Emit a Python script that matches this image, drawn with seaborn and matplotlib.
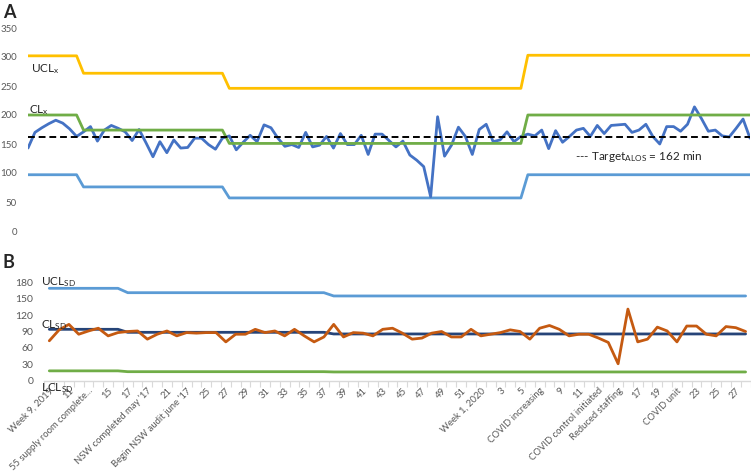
import numpy as np
import pandas as pd
import matplotlib
matplotlib.use("Agg")
import matplotlib.pyplot as plt
import seaborn as sns

# ---------------- data ----------------
# Panel A: weekly average length of stay (min)
alos = [143, 170, 178, 185, 191, 186, 176, 163, 171, 180, 155, 174, 182, 177, 171, 156,
        175, 152, 128, 154, 135, 157, 143, 144, 160, 160, 149, 141, 160, 164, 140, 153,
        165, 154, 183, 178, 160, 146, 149, 144, 170, 145, 148, 163, 143, 168, 149, 149,
        165, 132, 167, 167, 156, 145, 155, 131, 122, 111, 59, 197, 129, 148, 179, 163,
        132, 175, 184, 154, 157, 171, 154, 163, 167, 164, 174, 142, 173, 153, 163, 174,
        177, 163, 182, 168, 182, 183, 184, 170, 174, 184, 163, 150, 180, 180, 172, 184,
        214, 194, 172, 174, 164, 162, 177, 193, 160]
phase_len_a = [8, 21, 43, 33]
ucl_a = [302, 272, 246, 303]
cl_a = [200, 174, 151, 200]
lcl_a = [97, 76, 57, 97]
target_alos = 162

# Panel B: weekly standard deviation (min)
sd = [73, 93, 103, 85, 91, 96, 82, 88, 90, 91, 76, 85, 91, 82, 88, 87, 88, 88, 71, 85,
      85, 94, 88, 91, 82, 94, 82, 71, 80, 103, 80, 88, 87, 82, 94, 96, 87, 76, 78, 87,
      90, 80, 80, 94, 82, 85, 88, 93, 90, 76, 96, 101, 94, 82, 85, 85, 78, 70, 31, 131,
      71, 76, 98, 91, 71, 100, 100, 85, 82, 99, 97, 90]
phase_len_b = [8, 21, 43]
ucl_b = [169, 161, 155]
cl_b = [94, 88.5, 85.5]
lcl_b = [18, 16.5, 16]

xlabels_b = ["Week 9, 2019", "11", "55 supply room complete...", "15", "17",
             "NSW completed may '17", "21", "Begin NSW audit june '17", "25", "27",
             "29", "31", "33", "35", "37", "39", "41", "43", "45", "47", "49", "51",
             "Week 1, 2020", "3", "5", "COVID increasing", "9", "11",
             "COVID control initiated", "Reduced staffing", "17", "19", "COVID unit",
             "23", "25", "27"]

# ---------------- style ----------------
sns.set_theme(style="white")
plt.rcParams["font.family"] = ["Lato", "DejaVu Sans"]
plt.rcParams["mathtext.fontset"] = "custom"
plt.rcParams["mathtext.rm"] = "Lato"
plt.rcParams["mathtext.it"] = "Lato:italic"
plt.rcParams["mathtext.bf"] = "Lato:bold"

GOLD = "#FFC000"
GREEN = "#70AD47"
LBLUE = "#5B9BD5"
DBLUE = "#4472C4"
ORANGE = "#C55A11"
NAVY = "#264478"
GREY = "#595959"

W, H = 751, 473
fig = plt.figure(figsize=(W / 100, H / 100), dpi=100)
axA = fig.add_axes([28 / W, (H - 231) / H, 722 / W, 203 / H])
axB = fig.add_axes([44.4 / W, (H - 380.7) / H, 706.1 / W, 98.4 / H])

# ---------------- panel A ----------------
dfA = pd.DataFrame({
    "week": np.arange(len(alos)),
    "alos": alos,
    "ucl": np.repeat(ucl_a, phase_len_a),
    "cl": np.repeat(cl_a, phase_len_a),
    "lcl": np.repeat(lcl_a, phase_len_a),
    "target": target_alos,
})
lw = 2.0
sns.lineplot(data=dfA, x="week", y="ucl", ax=axA, color=GOLD, lw=lw)
sns.lineplot(data=dfA, x="week", y="lcl", ax=axA, color=LBLUE, lw=lw)
sns.lineplot(data=dfA, x="week", y="alos", ax=axA, color=DBLUE, lw=lw)
sns.lineplot(data=dfA, x="week", y="cl", ax=axA, color=GREEN, lw=lw)
sns.lineplot(data=dfA, x="week", y="target", ax=axA, color="black", lw=1.4,
             linestyle=(0, (3.5, 2)))
axA.set_xlim(0, len(alos) - 1)
axA.set_ylim(0, 350)
axA.set_yticks(range(0, 351, 50))
axA.set_xticks([])
axA.set_xlabel("")
axA.set_ylabel("")
for s in axA.spines.values():
    s.set_visible(False)
axA.tick_params(axis="y", length=0, pad=8, labelsize=7, labelcolor=GREY)

# ---------------- panel B ----------------
dfB = pd.DataFrame({
    "week": np.arange(len(sd)),
    "sd": sd,
    "ucl": np.repeat(ucl_b, phase_len_b),
    "cl": np.repeat(cl_b, phase_len_b),
    "lcl": np.repeat(lcl_b, phase_len_b),
})
sns.lineplot(data=dfB, x="week", y="ucl", ax=axB, color=LBLUE, lw=lw)
sns.lineplot(data=dfB, x="week", y="lcl", ax=axB, color=GREEN, lw=lw)
sns.lineplot(data=dfB, x="week", y="cl", ax=axB, color=NAVY, lw=lw)
sns.lineplot(data=dfB, x="week", y="sd", ax=axB, color=ORANGE, lw=lw)
axB.set_xlim(-0.5, len(sd) - 0.5)
axB.set_ylim(0, 180)
axB.set_yticks(range(0, 181, 30))
axB.set_xlabel("")
axB.set_ylabel("")
for k in ["top", "right", "left"]:
    axB.spines[k].set_visible(False)
axB.spines["bottom"].set_color("#D9D9D9")
axB.spines["bottom"].set_linewidth(1.0)
axB.set_xticks(np.arange(0, len(sd), 2))
axB.set_xticklabels(xlabels_b, rotation=45, ha="right", rotation_mode="anchor")
axB.set_xticks(np.arange(-0.5, len(sd), 1), minor=True)
axB.tick_params(axis="x", which="major", length=0, pad=4, labelsize=6.8, labelcolor=GREY)
axB.tick_params(axis="x", which="minor", length=4, width=0.8, color="#D9D9D9",
                direction="out", bottom=True)
axB.tick_params(axis="y", length=0, pad=8, labelsize=7.5, labelcolor=GREY)

# ---------------- annotations ----------------
def ftxt(x, y, s, **kw):
    fig.text(x / W, 1 - y / H, s, **kw)

ftxt(3, 12, "A", fontsize=13, fontweight="bold", va="center", ha="left")
ftxt(3, 262, "B", fontsize=13, fontweight="bold", va="center", ha="left")
ftxt(31, 69, r"UCL$_\mathregular{x}$", fontsize=8.5, va="center")
ftxt(29, 110, r"CL$_\mathregular{x}$", fontsize=8.5, va="center")
ftxt(575, 157, r"--- Target$_\mathregular{ALOS}$ = 162 min", fontsize=8.5, va="center")
ftxt(41, 282, r"UCL$_\mathregular{SD}$", fontsize=8.5, va="center")
ftxt(41, 325, r"CL$_\mathregular{SD}$", fontsize=8.5, va="center")
ftxt(41, 388, r"LCL$_\mathregular{SD}$", fontsize=8.5, va="center")

fig.savefig("out.png", dpi=100)
